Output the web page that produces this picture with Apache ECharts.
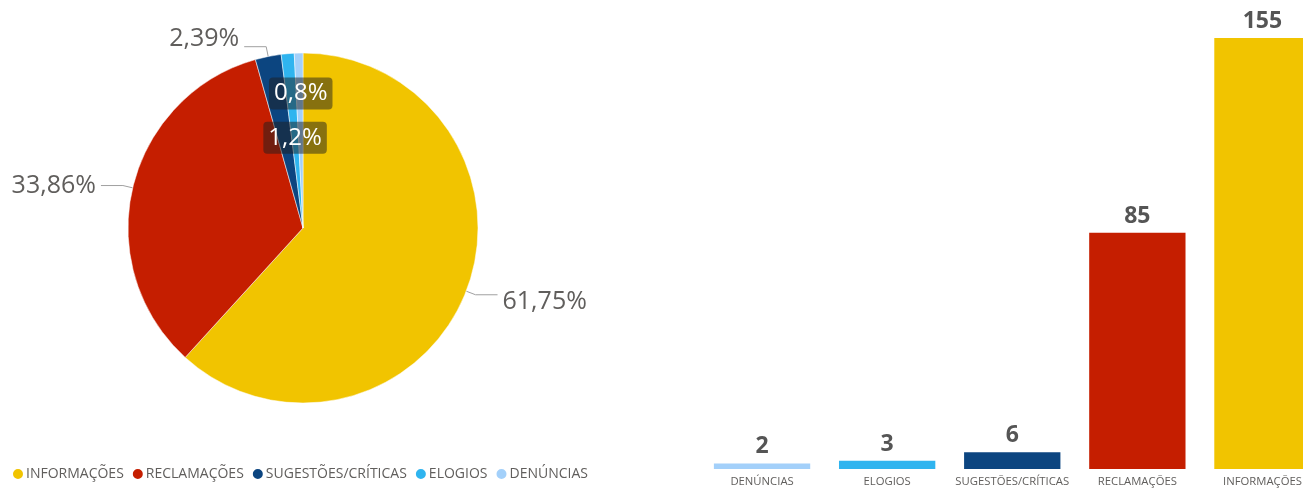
<!DOCTYPE html>
<html><head><meta charset="utf-8">
<script src="https://cdn.jsdelivr.net/npm/echarts@6/dist/echarts.min.js"></script>
<style>html,body{margin:0;padding:0;background:#fff;overflow:hidden}#c{width:1325px;height:488px}</style>
</head><body><div id="c"></div>
<script>
const pieCategories = ['INFORMAÇÕES','RECLAMAÇÕES','SUGESTÕES/CRÍTICAS','ELOGIOS','DENÚNCIAS'];
const pieValues = [155, 85, 6, 3, 2];
const barCategories = ['DENÚNCIAS','ELOGIOS','SUGESTÕES/CRÍTICAS','RECLAMAÇÕES','INFORMAÇÕES'];
const barValues = [2, 3, 6, 85, 155];
const colorMap = {
  'INFORMAÇÕES':'#F1C400',
  'RECLAMAÇÕES':'#C51E00',
  'SUGESTÕES/CRÍTICAS':'#0C4580',
  'ELOGIOS':'#2FB4EF',
  'DENÚNCIAS':'#A3D0FA'
};
const FONT = '"Open Sans", "Noto Sans", sans-serif';
const total = pieValues.reduce((a,b)=>a+b,0);

const pieData = pieCategories.map((n,i)=>{
  const pct = pieValues[i]/total*100;
  const small = pct < 2;
  const d = {name:n, value:pieValues[i], itemStyle:{color:colorMap[n]}};
  if (small) {
    d.label = {
      position:'inside',
      formatter: pct.toFixed(1).replace('.', ',') + '%',
      color:'#fff', fontSize:24, fontFamily:FONT,
      backgroundColor:'rgba(30,30,30,0.5)', borderRadius:4,
      padding:[5,5,3,5]
    };
    d.labelLine = {show:false};
  } else {
    d.label = {formatter: pct.toFixed(2).replace('.', ',') + '%'};
  }
  return d;
});

const labelShift = {0:7, 2:-8, 4:-44};

const chart = echarts.init(document.getElementById('c'));
chart.setOption({
  animation:false,
  legend:{
    data:pieCategories, left:6, bottom:2, icon:'circle',
    itemWidth:12, itemHeight:12, itemGap:7,
    textStyle:{color:'#605E5C', fontSize:14, fontFamily:FONT, padding:[0,0,0,-3]}
  },
  grid:{left:699.5, right:0, top:38, bottom:19},
  xAxis:{
    type:'category', data:barCategories,
    axisLine:{show:false}, axisTick:{show:false},
    axisLabel:{color:'#605E5C', fontSize:11.3, fontFamily:FONT, margin:7, interval:0}
  },
  yAxis:{type:'value', min:0, max:'dataMax', show:false},
  series:[
    {
      type:'pie', center:[303,228], radius:175, startAngle:90,
      data:pieData,
      itemStyle:{borderColor:'#fff', borderWidth:0.5},
      label:{color:'#605E5C', fontSize:25, fontFamily:FONT},
      labelLine:{length:10, length2:22, lineStyle:{color:'#A0A0A0', width:1}},
      labelLayout:function(p){ const s = labelShift[p.dataIndex]; return s ? {dy:s} : {}; }
    },
    {
      type:'bar', data:barValues.map((v,i)=>({value:v, itemStyle:{color:colorMap[barCategories[i]]}})),
      barCategoryGap:'23%',
      label:{show:true, position:'top', distance:5, color:'#555555', fontSize:23, fontWeight:'bold', fontFamily:FONT}
    }
  ]
});
</script>
</body></html>
